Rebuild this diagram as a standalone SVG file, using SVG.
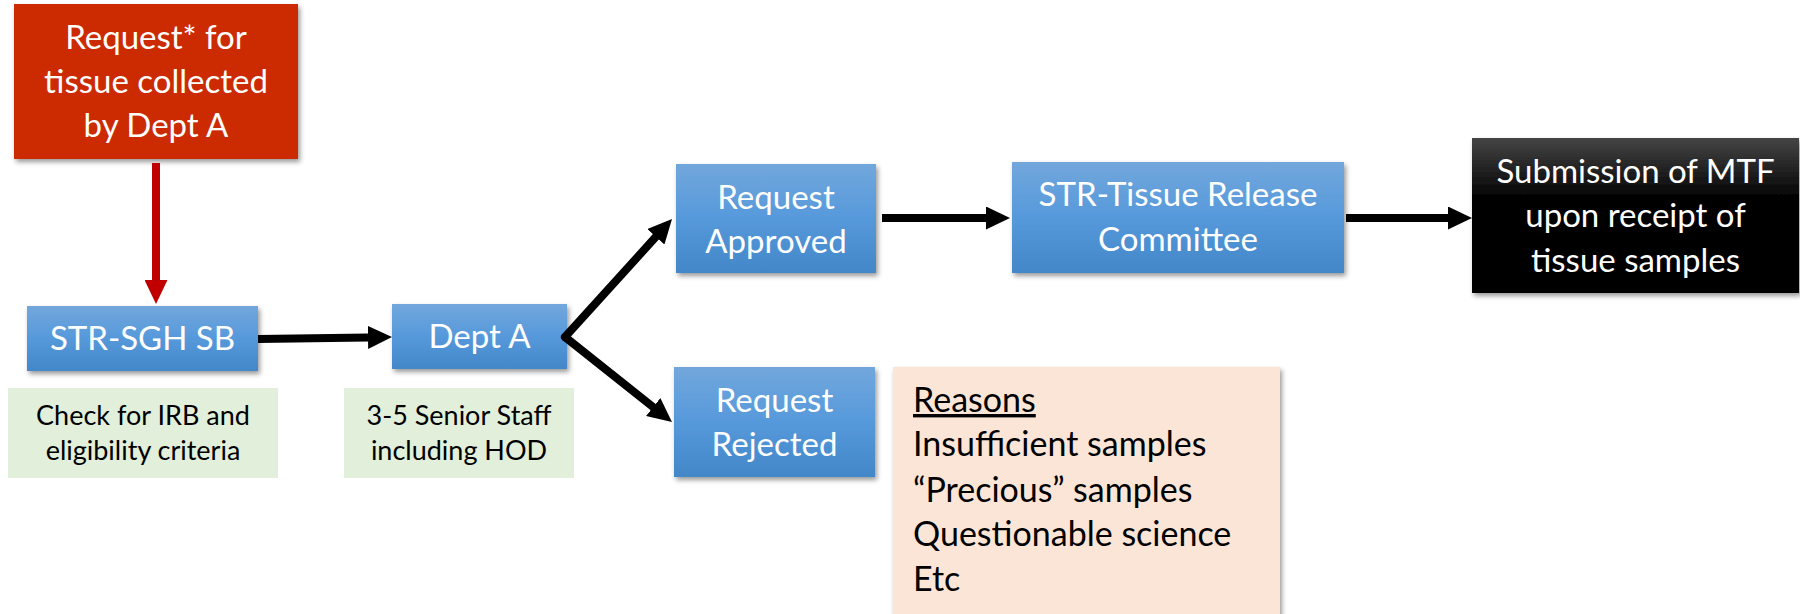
<svg xmlns="http://www.w3.org/2000/svg" width="1800" height="614" viewBox="0 0 1800 614">
<defs>
<style>
.t{font-family:Lato,"Open Sans","Liberation Sans",sans-serif;}
.w{fill:#fff;font-size:33px;text-anchor:middle;}
.g{fill:#000;font-size:27px;text-anchor:middle;}
.r{fill:#000;font-size:34px;}
.blue{fill:url(#bg);filter:url(#sh);}
.conn{stroke:#000;stroke-width:8;fill:none;}
</style>
<linearGradient id="bg" x1="0" y1="0" x2="0" y2="1">
<stop offset="0" stop-color="#72A7DC"/>
<stop offset="0.5" stop-color="#5699DB"/>
<stop offset="1" stop-color="#4387C9"/>
</linearGradient>
<linearGradient id="kg" x1="0" y1="0" x2="0" y2="1">
<stop offset="0" stop-color="#454545"/>
<stop offset="0.4" stop-color="#000"/>
<stop offset="1" stop-color="#000"/>
</linearGradient>
<filter id="sh" x="-10%" y="-10%" width="125%" height="140%">
<feDropShadow dx="2" dy="3" stdDeviation="2.5" flood-color="#000" flood-opacity="0.4"/>
</filter>
<marker id="ah" markerUnits="userSpaceOnUse" markerWidth="24" markerHeight="23" refX="0" refY="11.5" orient="auto">
<path d="M0,0 L24,11.5 L0,23 z" fill="#000"/>
</marker>
<marker id="ahr" markerUnits="userSpaceOnUse" markerWidth="24" markerHeight="23" refX="0" refY="11.5" orient="auto">
<path d="M0,0 L24,11.5 L0,23 z" fill="#C00000"/>
</marker>
</defs>
<rect width="1800" height="614" fill="#fff"/>

<g id="request" class="t">
<rect x="14" y="4" width="284" height="155" fill="#CC2900" filter="url(#sh)"/>
<text class="w" x="156" y="49">Request* for</text>
<text class="w" x="156" y="93">tissue collected</text>
<text class="w" x="156" y="137">by Dept A</text>
</g>

<g id="str-sgh-sb" class="t">
<rect class="blue" x="27" y="306" width="231" height="65"/>
<text class="w" x="142.5" y="350">STR-SGH SB</text>
</g>

<g id="note-irb" class="t">
<rect x="8" y="388" width="270" height="90" fill="#E2EFDA"/>
<text class="g" x="143" y="425">Check for IRB and</text>
<text class="g" x="143" y="460">eligibility criteria</text>
</g>

<g id="dept-a" class="t">
<rect class="blue" x="392" y="304" width="175" height="65"/>
<text class="w" x="479.5" y="348">Dept A</text>
</g>

<g id="note-staff" class="t">
<rect x="344" y="388" width="230" height="90" fill="#E2EFDA"/>
<text class="g" x="459" y="425">3-5 Senior Staff</text>
<text class="g" x="459" y="460">including HOD</text>
</g>

<g id="approved" class="t">
<rect class="blue" x="676" y="164" width="200" height="109"/>
<text class="w" x="776" y="209">Request</text>
<text class="w" x="776" y="253">Approved</text>
</g>

<g id="rejected" class="t">
<rect class="blue" x="674" y="367" width="201" height="110"/>
<text class="w" x="774.5" y="412">Request</text>
<text class="w" x="774.5" y="456">Rejected</text>
</g>

<g id="committee" class="t">
<rect class="blue" x="1012" y="162" width="332" height="111"/>
<text class="w" x="1178" y="206">STR-Tissue Release</text>
<text class="w" x="1178" y="251">Committee</text>
</g>

<g id="mtf" class="t">
<rect x="1472" y="138" width="327" height="155" fill="url(#kg)" filter="url(#sh)"/>
<text class="w" x="1635.5" y="183">Submission of MTF</text>
<text class="w" x="1635.5" y="227">upon receipt of</text>
<text class="w" x="1635.5" y="272">tissue samples</text>
</g>

<g id="reasons" class="t">
<rect x="893" y="367" width="387" height="260" fill="#FBE5D6" filter="url(#sh)"/>
<text class="r" x="913" y="412" text-decoration="underline">Reasons</text>
<text class="r" x="913" y="456">Insufficient samples</text>
<text class="r" x="913" y="502">“Precious” samples</text>
<text class="r" x="913" y="546">Questionable science</text>
<text class="r" x="913" y="591">Etc</text>
</g>

<g id="connectors">
<line x1="156" y1="163" x2="156" y2="280" stroke="#C00000" stroke-width="8" marker-end="url(#ahr)"/>
<line class="conn" x1="258" y1="339" x2="368" y2="337.4" marker-end="url(#ah)"/>
<line class="conn" x1="565" y1="337" x2="655.9" y2="236.8" stroke-linecap="round" marker-end="url(#ah)"/>
<line class="conn" x1="565" y1="337" x2="653.2" y2="407.1" stroke-linecap="round" marker-end="url(#ah)"/>
<line class="conn" x1="882" y1="218" x2="986" y2="218" marker-end="url(#ah)"/>
<line class="conn" x1="1346" y1="218" x2="1448" y2="218" marker-end="url(#ah)"/>
</g>
</svg>
